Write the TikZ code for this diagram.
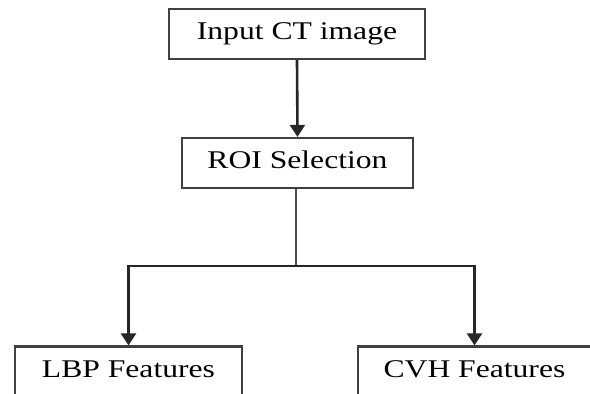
\documentclass[tikz,border=0pt]{standalone}
\usepackage{fontspec}
\setmainfont[FakeStretch=1.24]{Liberation Serif}
\usetikzlibrary{arrows.meta}
\tikzset{
  box/.style={draw=black!75, line width=2.2pt, fill=white, text=black,
    font=\fontsize{25.5}{30}\selectfont, minimum height=50pt,
    inner sep=0pt, text height=17pt, text depth=6pt},
  arr/.style={draw=black!85, line width=2.6pt, -{Triangle[width=15pt,length=12pt]}},
  link/.style={draw=black!70, line width=2.6pt}
}
\begin{document}
\begin{tikzpicture}[x=1pt,y=-1pt]
\clip (0,0) rectangle (590,394);
\fill[white] (0,0) rectangle (590,394);
\node[box, minimum width=256pt] (input) at (297,34) {Input CT image};
\node[box, minimum width=231pt] (roi) at (297.5,163) {ROI Selection};
\node[box, minimum width=227pt] (lbp) at (128.5,371.5) {LBP Features};
\node[box, minimum width=233pt] (cvh) at (474.5,371.5) {CVH Features};
\coordinate (split) at (296,266);
\draw[arr] (input.south) -- (roi.north);
\draw[link] (roi.south -| split) -- (split);
\draw[arr] (split) -| (lbp.north);
\draw[arr] (split) -| (cvh.north);
\end{tikzpicture}
\end{document}
